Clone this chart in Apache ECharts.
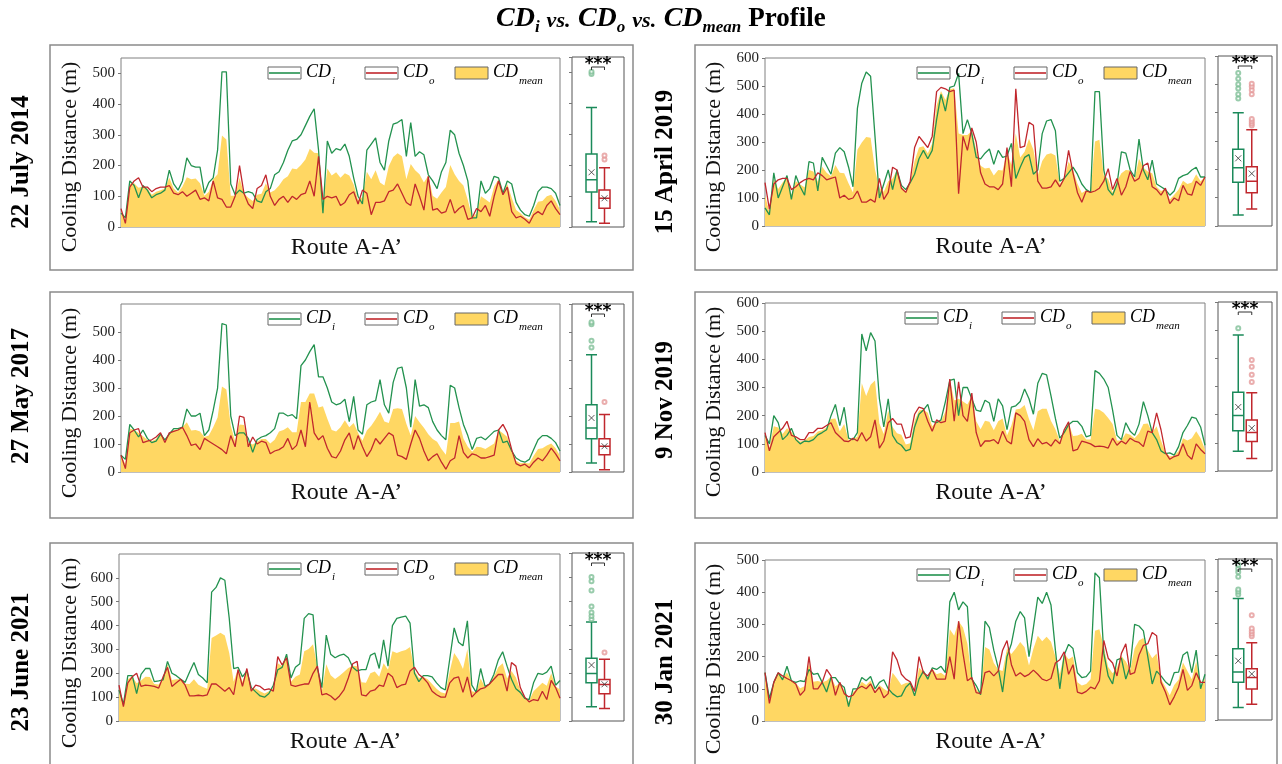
<!DOCTYPE html>
<html>
<head>
<meta charset="utf-8">
<script src="https://cdn.jsdelivr.net/npm/echarts@6/dist/echarts.min.js"></script>
<style>
  html, body { margin: 0; padding: 0; background: #fff; }
  #chart { width: 1282px; height: 764px; }
</style>
</head>
<body>
<div id="chart"></div>
<script>
// ---- values (Route A-A', left to right) ----
const cdI_Jul2014 = [45,30,150,135,95,135,120,95,105,110,120,185,140,120,150,225,200,195,195,110,145,160,250,505,505,140,105,120,110,115,110,85,80,115,125,170,180,210,250,280,285,300,330,360,385,250,45,280,240,255,250,270,230,160,100,75,250,270,290,210,185,280,335,340,350,230,340,230,245,235,170,150,125,180,210,315,300,240,200,150,30,30,150,110,125,165,160,110,150,140,80,55,40,35,70,115,130,130,125,110,70];
const cdO_Jul2014 = [60,12,130,150,160,130,130,115,125,130,130,135,110,105,115,100,110,120,90,95,85,150,95,90,65,65,100,200,110,75,60,125,135,170,100,70,90,100,80,100,90,105,110,150,100,230,90,100,95,100,70,80,105,115,75,120,110,40,80,80,85,115,120,140,110,80,70,140,100,55,165,55,60,45,50,90,45,60,70,25,30,60,50,70,35,100,150,105,130,50,30,35,25,12,40,50,40,70,85,60,40];
const cdM_Jul2014 = [52,21,140,142,128,132,125,105,115,120,125,160,125,112,132,162,155,158,142,102,115,155,172,298,285,102,102,160,110,95,85,105,108,142,112,120,135,155,165,190,188,202,220,255,242,240,68,190,168,178,160,175,168,138,88,98,180,155,185,145,135,198,228,240,230,155,205,185,172,145,168,102,92,112,130,202,172,150,135,88,30,45,100,90,80,132,155,108,140,95,55,45,32,24,55,82,85,100,105,85,55];

const cdI_Apr2019 = [65,40,190,100,140,180,95,180,140,110,230,225,125,245,215,185,260,280,265,210,140,420,510,550,535,320,100,150,200,130,200,145,130,155,185,240,270,240,270,380,470,410,495,500,545,330,380,330,245,240,260,275,220,270,245,250,295,170,210,245,255,185,200,330,375,380,340,160,170,190,210,185,150,130,120,480,480,200,130,110,150,265,260,200,175,310,200,165,235,150,140,130,110,125,170,180,185,200,210,175,175];
const cdO_Apr2019 = [155,60,150,165,170,170,130,140,155,165,170,165,190,180,165,170,175,100,110,95,100,125,85,85,95,85,170,95,120,210,200,135,120,160,280,320,300,280,320,480,495,490,480,485,115,320,270,350,300,190,150,140,140,130,150,280,140,490,280,285,370,360,160,135,135,140,165,140,170,270,190,120,85,125,120,125,135,160,205,130,170,110,140,195,160,170,215,225,140,130,110,135,80,100,90,145,115,110,160,145,175];
const cdM_Apr2019 = [110,50,170,132,155,175,112,160,148,138,200,195,158,212,190,178,218,190,188,152,120,272,298,318,315,202,135,122,160,170,200,140,125,158,232,280,285,260,295,430,482,450,488,492,330,325,325,340,272,215,205,208,180,200,198,265,218,330,245,265,312,272,180,232,255,260,252,150,170,230,200,152,118,128,120,302,308,180,168,120,160,188,200,198,168,240,208,195,188,140,125,132,95,112,130,162,150,155,185,160,175];

const cdI_May2017 = [60,45,170,150,125,150,120,105,110,135,115,135,155,155,160,225,200,200,210,130,150,220,300,530,525,200,130,140,140,120,70,115,125,130,140,155,210,210,200,205,190,380,400,430,455,340,340,300,250,240,245,260,180,270,150,135,240,250,255,330,240,210,320,370,375,300,160,330,235,240,230,180,150,130,115,310,300,230,170,130,80,120,125,115,130,145,150,105,110,75,50,40,35,45,80,115,130,130,120,105,75];
const cdO_May2017 = [60,12,140,150,155,105,110,115,125,140,105,140,145,150,160,130,95,100,80,120,110,100,90,80,65,130,90,200,195,90,125,100,110,105,65,75,80,90,120,80,95,150,90,250,140,115,130,85,55,50,75,115,140,80,130,90,55,80,120,100,120,140,130,60,55,45,100,150,120,75,40,55,65,35,10,40,50,130,70,50,65,60,50,50,55,60,150,170,140,80,30,22,28,15,35,50,40,60,85,65,40];
const cdM_May2017 = [60,28,155,150,140,128,115,110,118,138,110,138,150,152,160,178,148,150,145,125,130,160,195,305,295,165,110,170,168,105,98,108,118,118,102,115,145,150,160,142,142,250,250,280,280,230,235,190,150,145,160,185,160,175,140,112,148,165,188,215,180,175,225,228,225,172,130,200,178,158,135,118,108,82,62,175,175,180,120,90,72,90,88,82,92,102,150,138,125,78,40,31,32,30,58,82,85,95,102,85,58];

const cdI_Nov2019 = [130,100,200,175,115,130,155,115,100,110,108,115,132,140,150,200,240,165,230,120,115,140,490,430,495,465,260,160,260,130,105,95,75,80,160,205,220,240,180,175,185,250,325,330,200,300,300,260,220,215,255,245,180,260,235,150,230,235,250,295,260,205,315,350,345,270,190,120,140,168,180,180,162,125,130,360,350,330,300,220,130,115,175,145,130,170,250,200,140,115,75,65,68,60,90,140,165,195,190,160,95];
const cdO_Nov2019 = [140,75,125,140,155,180,130,125,115,115,140,140,155,155,165,175,140,125,110,108,120,110,140,110,125,185,85,110,175,190,170,170,120,125,205,230,225,180,145,185,175,180,330,180,320,200,180,280,140,90,110,110,115,100,145,110,100,210,200,180,115,90,118,100,105,92,115,100,150,178,75,80,110,105,100,90,92,90,85,120,95,110,100,120,110,105,90,145,140,210,150,70,45,55,60,100,60,45,100,80,65];
const cdM_Nov2019 = [135,88,162,158,135,155,142,120,108,112,124,128,144,148,158,188,190,145,170,114,118,125,315,270,310,325,172,135,218,160,138,132,98,102,182,218,222,210,162,180,180,215,328,255,260,250,240,270,180,152,182,178,148,180,190,130,165,222,225,238,188,148,216,225,225,181,152,110,145,173,128,130,136,115,115,225,221,210,192,170,112,112,138,132,120,138,170,172,140,162,112,68,56,58,75,120,112,120,145,120,80];

const cdI_Jun2021 = [130,70,190,190,115,195,220,220,165,168,172,250,200,190,175,162,205,245,195,180,160,540,560,600,590,430,220,225,185,210,140,122,105,100,115,150,215,225,280,180,225,240,430,450,445,220,140,360,280,265,275,280,265,225,210,215,215,275,285,220,340,230,400,430,435,440,410,200,165,190,190,185,160,140,130,260,390,330,315,420,150,120,220,145,155,195,255,290,230,175,135,120,95,90,160,200,195,205,230,150,170];
const cdO_Jun2021 = [150,60,160,185,200,145,150,148,145,138,185,225,145,160,175,150,105,105,108,105,110,155,155,140,125,140,110,215,145,220,125,150,145,130,135,125,270,235,265,150,145,150,155,155,200,230,110,115,105,88,105,130,180,240,250,110,105,125,130,150,145,200,185,140,150,155,210,225,195,180,160,125,110,100,100,160,180,185,120,185,100,120,135,140,155,175,195,195,125,245,230,140,100,80,90,85,125,90,170,140,95];
const cdM_Jun2021 = [140,65,175,188,158,170,185,184,155,153,178,238,172,175,175,156,155,175,152,142,135,348,358,370,358,285,165,220,165,215,132,136,125,115,125,138,242,230,272,165,185,195,292,302,322,225,125,238,192,176,190,205,222,232,230,162,160,200,208,185,242,215,292,285,292,298,310,212,180,185,175,155,135,120,115,210,285,258,218,302,125,120,178,142,155,185,225,242,178,210,182,130,98,85,125,142,160,148,200,145,132];

const cdI_Jan2021 = [150,70,120,150,128,170,125,120,125,122,160,145,148,120,90,135,135,115,105,45,100,100,135,125,138,100,120,128,100,85,75,78,105,118,78,130,155,130,165,160,170,150,370,400,345,370,355,130,110,82,310,290,220,165,90,200,240,310,340,320,200,290,385,365,400,360,220,100,205,238,225,150,135,138,155,460,445,210,140,115,190,195,130,170,300,295,280,200,115,155,140,122,110,150,152,205,215,150,220,100,145];
const cdO_Jan2021 = [150,55,120,150,140,132,125,115,80,95,200,100,100,120,160,140,80,120,85,75,80,100,108,100,115,88,105,72,85,215,190,145,130,122,92,200,150,140,160,130,130,130,200,130,310,210,125,135,88,85,150,155,140,155,220,250,175,140,150,138,145,158,145,130,125,132,180,190,215,145,175,90,85,92,105,100,125,250,195,180,140,210,240,145,150,205,235,240,275,265,120,90,50,75,105,160,95,110,150,120,120];
const cdM_Jan2021 = [150,62,120,150,134,151,125,118,102,108,180,122,124,120,125,138,108,118,95,60,90,100,122,112,126,94,112,100,92,150,132,112,118,120,85,165,152,135,162,145,150,140,285,265,310,290,240,132,99,84,230,222,180,160,155,225,208,225,245,229,172,224,265,248,262,246,200,145,210,192,200,120,110,115,130,280,285,230,168,148,165,202,185,158,225,250,258,220,195,210,130,106,80,112,128,182,155,130,185,110,132];

// ---- box plots: [min, Q1, median, Q3, max], mean, outliers ----
const boxI_Jul2014 = [17,113,153,236,387], boxO_Jul2014 = [12,61,93,120,192];
const meanIO_Jul2014 = [177, 93];
const outI_Jul2014 = [495, 502], outO_Jul2014 = [218, 231];

const boxI_Apr2019 = [39,154,206,271,400], boxO_Apr2019 = [60,117,158,209,340];
const meanIO_Apr2019 = [239, 185];
const outI_Apr2019 = [450,465,485,500,520,540], outO_Apr2019 = [355,362,370,378,465,480,492,502];

const boxI_May2017 = [32,119,157,240,419], boxO_May2017 = [8,62,92,119,205];
const meanIO_May2017 = [193, 92];
const outI_May2017 = [445,469,528,535], outO_May2017 = [250];

const boxI_Nov2019 = [70,143,197,280,483], boxO_Nov2019 = [44,105,137,181,278];
const meanIO_Nov2019 = [227, 152];
const outI_Nov2019 = [507], outO_Nov2019 = [316,342,370,394];

const boxI_Jun2021 = [59,159,198,261,413], boxO_Jun2021 = [52,114,152,173,257];
const meanIO_Jun2021 = [233, 153];
const outI_Jun2021 = [424,438,452,477,544,582,600], outO_Jun2021 = [285];

const boxI_Jan2021 = [39,117,149,221,377], boxO_Jan2021 = [49,96,132,159,240];
const meanIO_Jan2021 = [184, 143];
const outI_Jan2021 = [390,398,405,445,460,470,482], outO_Jan2021 = [260,268,276,284,325];

const boxCats = [' ', 'CDi', 'CDo', '  '];

const GREEN = '#23924f', RED = '#c1272d', YELLOW = '#ffd763';
const BOX_GREEN = '#1b8a5a', BOX_RED = '#c0272d';
const FONT = 'Liberation Serif';

// layout of the six panels (pixel boxes)
const panels = [
  { date: '22 July 2014', i: cdI_Jul2014, o: cdO_Jul2014, m: cdM_Jul2014, bI: boxI_Jul2014, bO: boxO_Jul2014, mean: meanIO_Jul2014, outI: outI_Jul2014, outO: outO_Jul2014,
    yMax: 550, showMax: false, frame: [50, 45, 583, 225], plot: [121, 58, 439, 169], box: [572, 57, 52, 170], dateX: 22, dateY: 162, nameX: 70, legDx: 0 },
  { date: '15 April 2019', i: cdI_Apr2019, o: cdO_Apr2019, m: cdM_Apr2019, bI: boxI_Apr2019, bO: boxO_Apr2019, mean: meanIO_Apr2019, outI: outI_Apr2019, outO: outO_Apr2019,
    yMax: 600, showMax: true, frame: [695, 45, 582, 225], plot: [765, 58, 440, 168], box: [1218, 56, 54, 170], dateX: 666, dateY: 162, nameX: 714, legDx: 4 },
  { date: '27 May 2017', i: cdI_May2017, o: cdO_May2017, m: cdM_May2017, bI: boxI_May2017, bO: boxO_May2017, mean: meanIO_May2017, outI: outI_May2017, outO: outO_May2017,
    yMax: 600, showMax: false, frame: [50, 292, 583, 226], plot: [121, 304, 439, 168], box: [572, 304, 52, 168], dateX: 22, dateY: 396, nameX: 70, legDx: 0 },
  { date: '9 Nov 2019', i: cdI_Nov2019, o: cdO_Nov2019, m: cdM_Nov2019, bI: boxI_Nov2019, bO: boxO_Nov2019, mean: meanIO_Nov2019, outI: outI_Nov2019, outO: outO_Nov2019,
    yMax: 600, showMax: true, frame: [695, 292, 582, 226], plot: [765, 303, 440, 169], box: [1218, 302, 54, 169], dateX: 666, dateY: 400, nameX: 714, legDx: -8 },
  { date: '23 June 2021', i: cdI_Jun2021, o: cdO_Jun2021, m: cdM_Jun2021, bI: boxI_Jun2021, bO: boxO_Jun2021, mean: meanIO_Jun2021, outI: outI_Jun2021, outO: outO_Jun2021,
    yMax: 700, showMax: false, frame: [50, 543, 583, 240], plot: [119, 554, 441, 167], box: [572, 553, 52, 168], dateX: 22, dateY: 662, nameX: 70, legDx: 0 },
  { date: '30 Jan 2021', i: cdI_Jan2021, o: cdO_Jan2021, m: cdM_Jan2021, bI: boxI_Jan2021, bO: boxO_Jan2021, mean: meanIO_Jan2021, outI: outI_Jan2021, outO: outO_Jan2021,
    yMax: 500, showMax: true, frame: [695, 543, 582, 240], plot: [765, 560, 440, 161], box: [1218, 559, 54, 161], dateX: 666, dateY: 662, nameX: 714, legDx: 4 }
];

const legRich = {
  a: { fontFamily: FONT, fontSize: 18, fontStyle: 'italic', color: '#111', verticalAlign: 'top' },
  b: { fontFamily: FONT, fontSize: 11, fontStyle: 'italic', color: '#111', verticalAlign: 'top', padding: [13, 0, 0, 1] }
};

const option = {
  backgroundColor: '#fff',
  animation: false,
  title: {
    left: 496, top: 5, padding: 0,
    text: '{c|CD}{s|i}{v|vs. }{c|CD}{s|o}{v|vs. }{c|CD}{s|mean}{p|Profile}',
    textStyle: {
      rich: {
        c: { fontFamily: FONT, fontSize: 28, fontStyle: 'italic', fontWeight: 'bold', color: '#000', verticalAlign: 'top' },
        s: { fontFamily: FONT, fontSize: 17, fontStyle: 'italic', fontWeight: 'bold', color: '#000', verticalAlign: 'top', padding: [14, 7, 0, 0] },
        v: { fontFamily: FONT, fontSize: 22, fontStyle: 'italic', fontWeight: 'bold', color: '#000', verticalAlign: 'top', padding: [5, 2, 0, 0] },
        p: { fontFamily: FONT, fontSize: 27, fontWeight: 'bold', color: '#000', verticalAlign: 'top', padding: [1, 0, 0, 0] }
      }
    }
  },
  grid: [], xAxis: [], yAxis: [], series: [], graphic: []
};

panels.forEach((p, n) => {
  const gi = n * 2, bi = n * 2 + 1;
  const [pl, pt, pw, ph] = p.plot;
  const [bl, bt, bw, bh] = p.box;

  option.grid.push({ left: pl, top: pt, width: pw, height: ph, show: true, borderColor: '#808080', borderWidth: 1 });
  option.grid.push({ left: bl, top: bt, width: bw, height: bh, show: true, borderColor: '#555', borderWidth: 1 });

  option.xAxis.push({
    gridIndex: gi, type: 'category', boundaryGap: false,
    data: p.i.map((_, k) => k + 1),
    axisLine: { show: false }, axisTick: { show: false }, axisLabel: { show: false },
    name: 'Route A-A’', nameLocation: 'middle', nameGap: 9,
    nameTextStyle: { fontFamily: FONT, fontSize: 24, color: '#111', padding: [0, 0, 0, 12] }
  });
  option.xAxis.push({
    gridIndex: bi, type: 'category', data: boxCats,
    axisLine: { show: false }, axisTick: { show: false }, axisLabel: { show: false }
  });

  const yBase = {
    type: 'value', min: 0, max: p.yMax, interval: 100,
    axisLine: { show: false }, splitLine: { show: false },
    axisTick: { show: true, length: 3, lineStyle: { color: '#777' } }
  };
  option.yAxis.push(Object.assign({}, yBase, {
    gridIndex: gi,
    axisLabel: { fontFamily: FONT, fontSize: 15, color: '#222', margin: 6, showMaxLabel: p.showMax }
  }));
  option.yAxis.push(Object.assign({}, yBase, { gridIndex: bi, axisLabel: { show: false } }));

  option.series.push(
    { type: 'line', xAxisIndex: gi, yAxisIndex: gi, data: p.m, symbol: 'none', z: 1,
      lineStyle: { width: 0 }, areaStyle: { color: YELLOW, opacity: 1 } },
    { type: 'line', xAxisIndex: gi, yAxisIndex: gi, data: p.i, symbol: 'none', z: 3,
      lineStyle: { color: GREEN, width: 1.3 }, itemStyle: { color: GREEN } },
    { type: 'line', xAxisIndex: gi, yAxisIndex: gi, data: p.o, symbol: 'none', z: 4,
      lineStyle: { color: RED, width: 1.3 }, itemStyle: { color: RED } },
    { type: 'boxplot', xAxisIndex: bi, yAxisIndex: bi, boxWidth: [11, 11],
      encode: { x: 0, y: [1, 2, 3, 4, 5] },
      itemStyle: { color: '#fff', borderWidth: 1.5 },
      data: [
        { value: [1].concat(p.bI), itemStyle: { borderColor: BOX_GREEN } },
        { value: [2].concat(p.bO), itemStyle: { borderColor: BOX_RED } }
      ] },
    { type: 'scatter', xAxisIndex: bi, yAxisIndex: bi, z: 5,
      data: [[1, p.mean[0]], [2, p.mean[1]]],
      symbol: 'path://M0,0L10,10M10,0L0,10', symbolSize: 6,
      itemStyle: { color: 'none', borderColor: '#333', borderWidth: 1 } },
    { type: 'scatter', xAxisIndex: bi, yAxisIndex: bi, z: 5,
      data: p.outI.map(v => [1, v]), symbol: 'emptyCircle', symbolSize: 4,
      itemStyle: { color: '#7fbf97', borderColor: '#7fbf97', borderWidth: 1 } },
    { type: 'scatter', xAxisIndex: bi, yAxisIndex: bi, z: 5,
      data: p.outO.map(v => [2, v]), symbol: 'emptyCircle', symbolSize: 4,
      itemStyle: { color: '#e59a9a', borderColor: '#e59a9a', borderWidth: 1 } }
  );

  const g = option.graphic;
  const [fx, fy, fw, fh] = p.frame;
  g.push({ type: 'rect', z: 100, shape: { x: fx, y: fy, width: fw, height: fh },
           style: { fill: 'none', stroke: '#8a8a8a', lineWidth: 1.5 } });
  g.push({ type: 'text', z: 100, x: p.dateX, y: p.dateY, rotation: Math.PI / 2,
           style: { text: p.date, font: 'bold 25px "Liberation Serif"', fill: '#000',
                    textAlign: 'center', textVerticalAlign: 'middle', align: 'center', verticalAlign: 'middle' } });
  g.push({ type: 'text', z: 100, x: p.nameX, y: pt + 99, rotation: Math.PI / 2,
           style: { text: 'Cooling Distance (m)', font: '22px "Liberation Serif"', fill: '#111',
                    textAlign: 'center', textVerticalAlign: 'middle', align: 'center', verticalAlign: 'middle' } });

  // legend (top right inside the profile)
  const R = pl + pw + p.legDx;
  const items = [
    { x: R - 292, kind: 'line', color: GREEN, sub: 'i' },
    { x: R - 195, kind: 'line', color: RED, sub: 'o' },
    { x: R - 105, kind: 'area', color: YELLOW, sub: 'mean' }
  ];
  items.forEach(it => {
    g.push({ type: 'rect', z: 110, shape: { x: it.x, y: pt + 9, width: 33, height: 12 },
             style: { fill: it.kind === 'area' ? it.color : '#fff', stroke: '#666', lineWidth: 1 } });
    if (it.kind === 'line') {
      g.push({ type: 'line', z: 111, shape: { x1: it.x + 1, y1: pt + 15, x2: it.x + 32, y2: pt + 15 },
               style: { stroke: it.color, lineWidth: 1.6 } });
    }
    g.push({ type: 'text', z: 111, x: it.x + 38, y: pt + 5,
             style: { text: '{a|CD}{b|' + it.sub + '}', rich: legRich, textAlign: 'left', textVerticalAlign: 'top', align: 'left', verticalAlign: 'top' } });
  });

  // significance mark over the two boxes
  const cx1 = bl + bw * 0.375, cx2 = bl + bw * 0.625;
  g.push({ type: 'text', z: 110, x: bl + bw / 2, y: bt + 8,
           style: { text: '***', font: 'bold 17px "DejaVu Sans"', fill: '#000',
                    textAlign: 'center', textVerticalAlign: 'middle', align: 'center', verticalAlign: 'middle' } });
  g.push({ type: 'polyline', z: 110, shape: { points: [[cx1, bt + 13], [cx1, bt + 10], [cx2, bt + 10], [cx2, bt + 13]] },
           style: { stroke: '#333', lineWidth: 1, fill: 'none' } });
});

const chart = echarts.init(document.getElementById('chart'), null, { renderer: 'canvas' });
chart.setOption(option);
</script>
</body>
</html>
